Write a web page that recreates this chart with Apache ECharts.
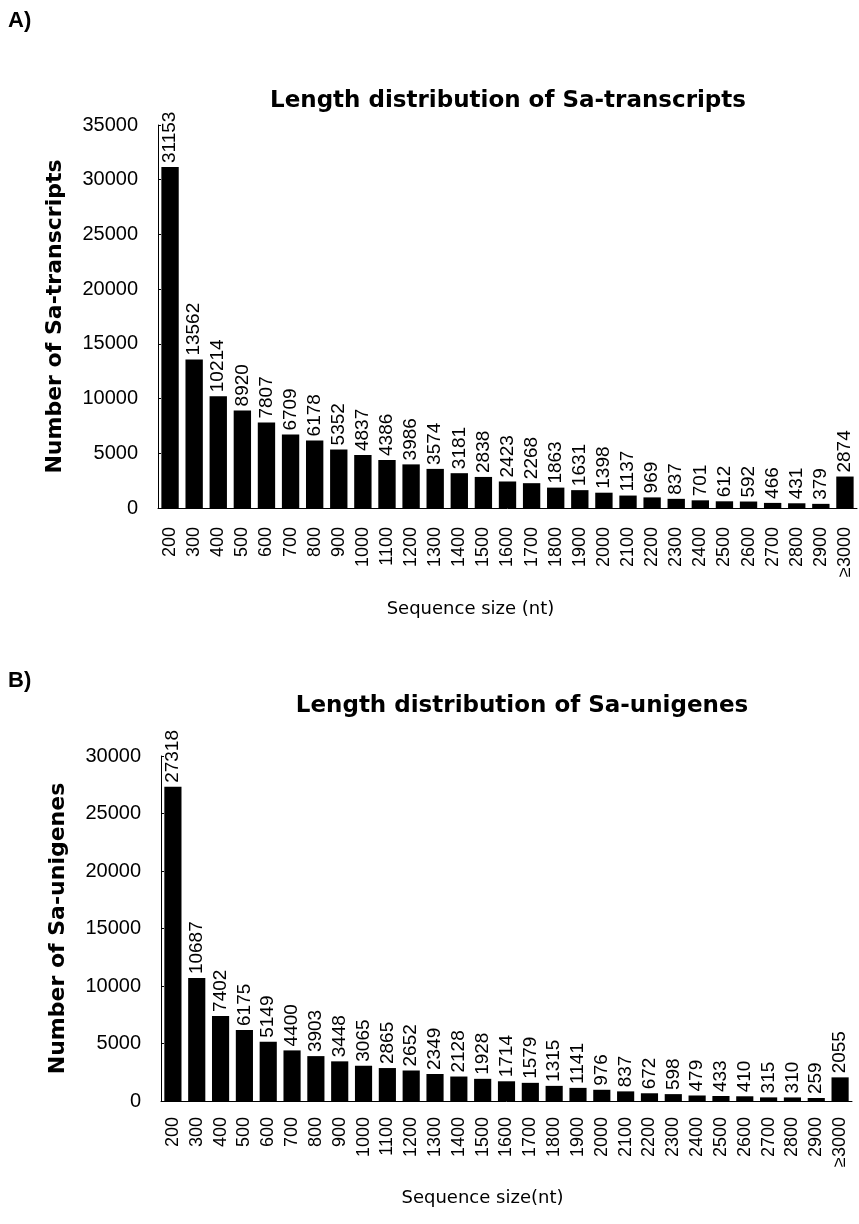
<!DOCTYPE html>
<html>
<head>
<meta charset="utf-8">
<script src="https://cdn.jsdelivr.net/npm/echarts@6/dist/echarts.min.js"></script>
<style>
  html, body { margin: 0; padding: 0; background: #fff; }
  #main { width: 859px; height: 1224px; }
</style>
</head>
<body>
<div id="main"></div>
<script>
// sequence length bins (nt)
const sizes = ['200', '300', '400', '500', '600', '700', '800', '900', '1000', '1100',
  '1200', '1300', '1400', '1500', '1600', '1700', '1800', '1900', '2000', '2100',
  '2200', '2300', '2400', '2500', '2600', '2700', '2800', '2900', '≥3000']

// A) transcripts
const transcripts = [31153, 13562, 10214, 8920, 7807, 6709, 6178, 5352, 4837, 4386,
  3986, 3574, 3181, 2838, 2423, 2268, 1863, 1631, 1398, 1137,
  969, 837, 701, 612, 592, 466, 431, 379, 2874]

// B) unigenes
const unigenes = [27318, 10687, 7402, 6175, 5149, 4400, 3903, 3448, 3065, 2865,
  2652, 2349, 2128, 1928, 1714, 1579, 1315, 1141, 976, 837,
  672, 598, 479, 433, 410, 315, 310, 259, 2055]

const titles = ['Length distribution of Sa-transcripts', 'Length distribution of Sa-unigenes']
const yNames = ['Number of Sa-transcripts', 'Number of Sa-unigenes']
const xNames = ['Sequence size (nt)', 'Sequence size(nt)']

const font = 'Liberation Sans, Arial, sans-serif'
const titleFont = 'DejaVu Sans, Verdana, sans-serif'

const chart = echarts.init(document.getElementById('main'))

// shift: how far the axis name sits left of the grid centre
const xAxis = (idx, name, shift, gap, margin) => ({
  type: 'category',
  gridIndex: idx,
  data: sizes,
  name: name,
  nameLocation: 'middle',
  nameGap: gap,
  nameTextStyle: {
    fontFamily: titleFont, fontSize: 18, color: '#000',
    padding: [0, shift * 2, 0, 0]
  },
  axisLine: { lineStyle: { color: '#000', width: 1 } },
  axisTick: { show: false },
  axisLabel: {
    rotate: 90, interval: 0, margin: margin,
    fontFamily: font, fontSize: 18, color: '#000'
  }
})

const yAxis = (idx, name, max) => ({
  type: 'value',
  gridIndex: idx,
  min: 0, max: max, interval: 5000,
  name: name,
  nameLocation: 'middle',
  nameGap: 92,
  nameTextStyle: { fontFamily: titleFont, fontSize: 22, fontWeight: 'bold', color: '#000' },
  splitLine: { show: false },
  axisLine: { show: true, lineStyle: { color: '#000', width: 1 } },
  axisTick: { show: true, inside: true, length: 3, lineStyle: { color: '#000' } },
  axisLabel: {
    fontFamily: font, fontSize: 20, color: '#000', margin: 20,
    formatter: v => String(v)
  }
})

const barSeries = (idx, data) => ({
  type: 'bar',
  xAxisIndex: idx,
  yAxisIndex: idx,
  data: data,
  barCategoryGap: '28%',
  itemStyle: { color: '#000' },
  label: {
    show: true,
    position: 'top',
    rotate: 90,
    align: 'left',
    verticalAlign: 'middle',
    distance: 4,
    fontFamily: font,
    fontSize: 19,
    color: '#000'
  }
})

const option = {
  animation: false,
  backgroundColor: '#fff',
  title: [
    { text: titles[0], left: 503, top: 85, textAlign: 'center',
      textStyle: { fontFamily: titleFont, fontSize: 23, fontWeight: 'bold', color: '#000' } },
    { text: titles[1], left: 517, top: 690, textAlign: 'center',
      textStyle: { fontFamily: titleFont, fontSize: 23, fontWeight: 'bold', color: '#000' } }
  ],
  graphic: [
    { type: 'text', left: 8, top: 10,
      style: { text: 'A)', font: 'bold 22px Liberation Sans, Arial, sans-serif', fill: '#000' } },
    { type: 'text', left: 8, top: 670,
      style: { text: 'B)', font: 'bold 22px Liberation Sans, Arial, sans-serif', fill: '#000' } }
  ],
  grid: [
    { left: 158, right: 2, top: 125, height: 383 },
    { left: 161, right: 7, top: 756, height: 345 }
  ],
  xAxis: [xAxis(0, xNames[0], 37, 92, 19), xAxis(1, xNames[1], 24, 88, 16)],
  yAxis: [yAxis(0, yNames[0], 35000), yAxis(1, yNames[1], 30000)],
  series: [barSeries(0, transcripts), barSeries(1, unigenes)]
}

chart.setOption(option)
</script>
</body>
</html>
